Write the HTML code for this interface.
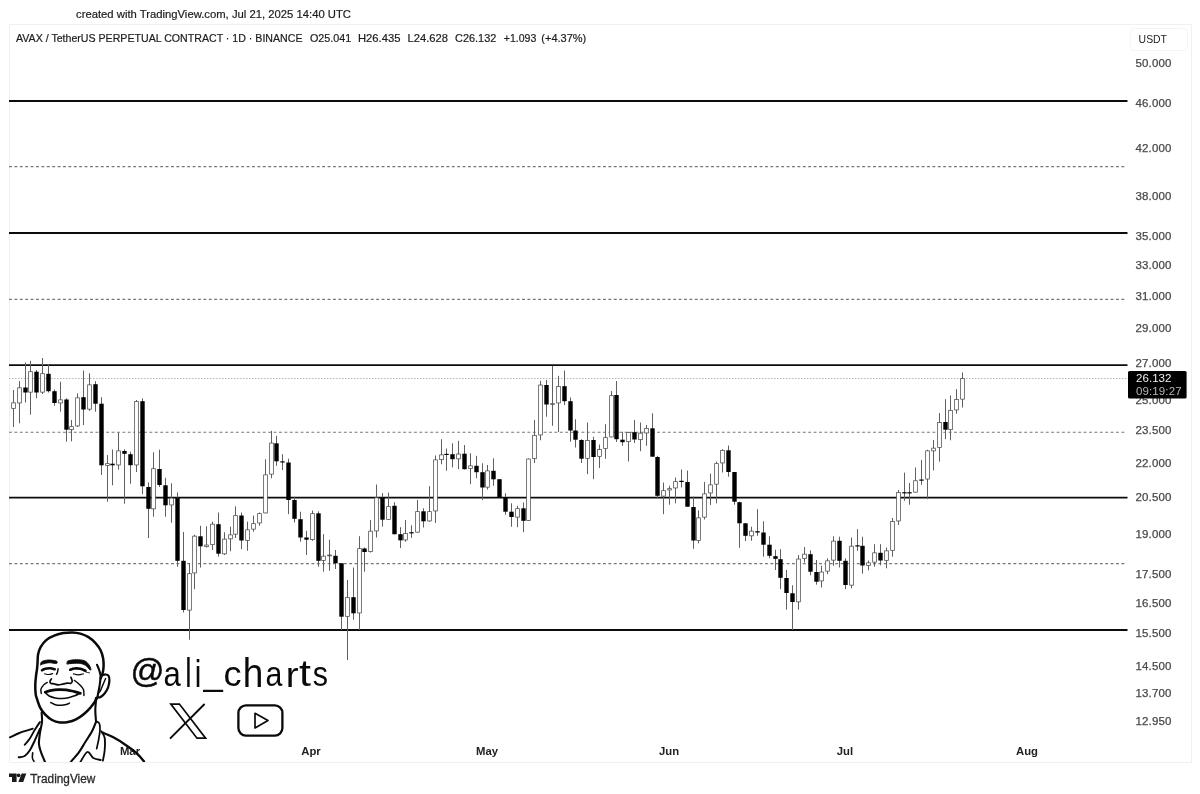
<!DOCTYPE html>
<html lang="en"><head><meta charset="utf-8"><title>AVAX / TetherUS PERPETUAL CONTRACT</title>
<style>
html,body{margin:0;padding:0;background:#fff;}
body{width:1200px;height:794px;overflow:hidden;position:relative;font-family:"Liberation Sans",sans-serif;}
svg{position:absolute;left:0;top:0;display:block;filter:grayscale(1);}
text{font-family:"Liberation Sans",sans-serif;}
.ax{font-size:11.5px;fill:#484848;stroke:#484848;stroke-width:0.25px;}
.mo{font-size:11.3px;font-weight:bold;fill:#222;}
</style></head><body>
<svg width="1200" height="794" viewBox="0 0 1200 794">
<rect x="0" y="0" width="1200" height="794" fill="#ffffff"/>

<rect x="9.5" y="24.5" width="1182" height="738" fill="none" stroke="#f0f0f0" stroke-width="1"/>
<text x="76" y="18" font-size="11.3px" fill="#1c1c1c" stroke="#1c1c1c" stroke-width="0.2" textLength="275" lengthAdjust="spacingAndGlyphs">created with TradingView.com, Jul 21, 2025 14:40 UTC</text>
<text x="16" y="42" font-size="11px" fill="#1c1c1c" stroke="#1c1c1c" stroke-width="0.2" textLength="286.5" lengthAdjust="spacingAndGlyphs">AVAX / TetherUS PERPETUAL CONTRACT · 1D · BINANCE</text>
<text x="310" y="42" font-size="11px" fill="#1c1c1c" stroke="#1c1c1c" stroke-width="0.2" textLength="41.3" lengthAdjust="spacingAndGlyphs">O25.041</text>
<text x="358" y="42" font-size="11px" fill="#1c1c1c" stroke="#1c1c1c" stroke-width="0.2" textLength="42.5" lengthAdjust="spacingAndGlyphs">H26.435</text>
<text x="407.5" y="42" font-size="11px" fill="#1c1c1c" stroke="#1c1c1c" stroke-width="0.2" textLength="40.5" lengthAdjust="spacingAndGlyphs">L24.628</text>
<text x="455" y="42" font-size="11px" fill="#1c1c1c" stroke="#1c1c1c" stroke-width="0.2" textLength="41.3" lengthAdjust="spacingAndGlyphs">C26.132</text>
<text x="503.8" y="42" font-size="11px" fill="#1c1c1c" stroke="#1c1c1c" stroke-width="0.2" textLength="32.5" lengthAdjust="spacingAndGlyphs">+1.093</text>
<text x="541.3" y="42" font-size="11px" fill="#1c1c1c" stroke="#1c1c1c" stroke-width="0.2" textLength="45.0" lengthAdjust="spacingAndGlyphs">(+4.37%)</text>
<rect x="1130.5" y="28.5" width="57" height="22" rx="4" fill="#fff" stroke="#f5f5f5"/>
<text x="1138.6" y="43" font-size="11px" fill="#222" textLength="28.4" lengthAdjust="spacingAndGlyphs">USDT</text>
<line x1="9" x2="1127.5" y1="101" y2="101" stroke="#0c0c0c" stroke-width="1.9"/>
<line x1="9" x2="1127.5" y1="233" y2="233" stroke="#0c0c0c" stroke-width="1.9"/>
<line x1="9" x2="1127.5" y1="365.1" y2="365.1" stroke="#0c0c0c" stroke-width="1.9"/>
<line x1="9" x2="1127.5" y1="497.6" y2="497.6" stroke="#0c0c0c" stroke-width="1.9"/>
<line x1="9" x2="1127.5" y1="630" y2="630" stroke="#0c0c0c" stroke-width="1.9"/>
<line x1="9" x2="1125.5" y1="166.6" y2="166.6" stroke="#777" stroke-width="1.1" stroke-dasharray="2.9 2.5"/>
<line x1="9" x2="1125.5" y1="299.4" y2="299.4" stroke="#777" stroke-width="1.1" stroke-dasharray="2.9 2.5"/>
<line x1="9" x2="1125.5" y1="432.2" y2="432.2" stroke="#777" stroke-width="1.1" stroke-dasharray="2.9 2.5"/>
<line x1="9" x2="1125.5" y1="563.6" y2="563.6" stroke="#777" stroke-width="1.1" stroke-dasharray="2.9 2.5"/>
<line x1="9" x2="1127" y1="378.5" y2="378.5" stroke="#b5b5b5" stroke-width="1" stroke-dasharray="1.5 1.5"/>
<text class="ax" x="1135.6" y="66.6" textLength="35.7" lengthAdjust="spacing">50.000</text>
<text class="ax" x="1135.6" y="107.2" textLength="35.7" lengthAdjust="spacing">46.000</text>
<text class="ax" x="1135.6" y="151.5" textLength="35.7" lengthAdjust="spacing">42.000</text>
<text class="ax" x="1135.6" y="200.3" textLength="35.7" lengthAdjust="spacing">38.000</text>
<text class="ax" x="1135.6" y="240.3" textLength="35.7" lengthAdjust="spacing">35.000</text>
<text class="ax" x="1135.6" y="269.0" textLength="35.7" lengthAdjust="spacing">33.000</text>
<text class="ax" x="1135.6" y="299.5" textLength="35.7" lengthAdjust="spacing">31.000</text>
<text class="ax" x="1135.6" y="331.9" textLength="35.7" lengthAdjust="spacing">29.000</text>
<text class="ax" x="1135.6" y="366.7" textLength="35.7" lengthAdjust="spacing">27.000</text>
<text class="ax" x="1135.6" y="404.2" textLength="35.7" lengthAdjust="spacing">25.000</text>
<text class="ax" x="1135.6" y="434.4" textLength="35.7" lengthAdjust="spacing">23.500</text>
<text class="ax" x="1135.6" y="466.5" textLength="35.7" lengthAdjust="spacing">22.000</text>
<text class="ax" x="1135.6" y="500.9" textLength="35.7" lengthAdjust="spacing">20.500</text>
<text class="ax" x="1135.6" y="537.9" textLength="35.7" lengthAdjust="spacing">19.000</text>
<text class="ax" x="1135.6" y="578.0" textLength="35.7" lengthAdjust="spacing">17.500</text>
<text class="ax" x="1135.6" y="606.6" textLength="35.7" lengthAdjust="spacing">16.500</text>
<text class="ax" x="1135.6" y="637.1" textLength="35.7" lengthAdjust="spacing">15.500</text>
<text class="ax" x="1135.6" y="669.6" textLength="35.7" lengthAdjust="spacing">14.500</text>
<text class="ax" x="1135.6" y="697.2" textLength="35.7" lengthAdjust="spacing">13.700</text>
<text class="ax" x="1135.6" y="724.6" textLength="35.7" lengthAdjust="spacing">12.950</text>
<line x1="13.5" x2="13.5" y1="390.0" y2="427.0" stroke="#606060" stroke-width="1"/>
<rect x="11.65" y="402.85" width="3.7" height="5.5" fill="#fff" stroke="#4a4a4a" stroke-width="0.75"/>
<line x1="19.5" x2="19.5" y1="381.2" y2="423.3" stroke="#606060" stroke-width="1"/>
<rect x="17.65" y="387.85" width="3.7" height="15.1" fill="#fff" stroke="#4a4a4a" stroke-width="0.75"/>
<line x1="25.5" x2="25.5" y1="362.5" y2="402.5" stroke="#606060" stroke-width="1"/>
<rect x="23.3" y="387.5" width="4.4" height="5.0" fill="#000"/>
<line x1="30.5" x2="30.5" y1="360.8" y2="414.7" stroke="#606060" stroke-width="1"/>
<rect x="28.65" y="371.65000000000003" width="3.7" height="20.5" fill="#fff" stroke="#4a4a4a" stroke-width="0.75"/>
<line x1="36.5" x2="36.5" y1="370.0" y2="398.3" stroke="#606060" stroke-width="1"/>
<rect x="34.3" y="371.7" width="4.4" height="20.8" fill="#000"/>
<line x1="42.5" x2="42.5" y1="358.0" y2="394.0" stroke="#606060" stroke-width="1"/>
<rect x="40.65" y="373.65000000000003" width="3.7" height="18.5" fill="#fff" stroke="#4a4a4a" stroke-width="0.75"/>
<line x1="48.5" x2="48.5" y1="364.0" y2="392.5" stroke="#606060" stroke-width="1"/>
<rect x="46.3" y="373.8" width="4.4" height="17.4" fill="#000"/>
<line x1="54.5" x2="54.5" y1="389.5" y2="405.8" stroke="#606060" stroke-width="1"/>
<rect x="52.3" y="391.2" width="4.4" height="11.8" fill="#000"/>
<line x1="60.5" x2="60.5" y1="381.7" y2="411.7" stroke="#606060" stroke-width="1"/>
<rect x="58.65" y="399.85" width="3.7" height="3.1" fill="#fff" stroke="#4a4a4a" stroke-width="0.75"/>
<line x1="66.5" x2="66.5" y1="398.3" y2="441.7" stroke="#606060" stroke-width="1"/>
<rect x="64.3" y="399.5" width="4.4" height="30.2" fill="#000"/>
<line x1="71.5" x2="71.5" y1="420.0" y2="441.3" stroke="#606060" stroke-width="1"/>
<rect x="69.65" y="426.65000000000003" width="3.7" height="3.0" fill="#fff" stroke="#4a4a4a" stroke-width="0.75"/>
<line x1="77.5" x2="77.5" y1="393.3" y2="427.0" stroke="#606060" stroke-width="1"/>
<rect x="75.65" y="397.85" width="3.7" height="28.1" fill="#fff" stroke="#4a4a4a" stroke-width="0.75"/>
<line x1="83.5" x2="83.5" y1="370.5" y2="425.0" stroke="#606060" stroke-width="1"/>
<rect x="81.3" y="397.2" width="4.4" height="12.3" fill="#000"/>
<line x1="89.5" x2="89.5" y1="373.3" y2="410.8" stroke="#606060" stroke-width="1"/>
<rect x="87.65" y="384.85" width="3.7" height="24.3" fill="#fff" stroke="#4a4a4a" stroke-width="0.75"/>
<line x1="95.5" x2="95.5" y1="381.2" y2="411.7" stroke="#606060" stroke-width="1"/>
<rect x="93.3" y="384.2" width="4.4" height="19.5" fill="#000"/>
<line x1="101.5" x2="101.5" y1="397.2" y2="475.0" stroke="#606060" stroke-width="1"/>
<rect x="99.3" y="403.7" width="4.4" height="61.6" fill="#000"/>
<line x1="107.5" x2="107.5" y1="455.0" y2="501.7" stroke="#606060" stroke-width="1"/>
<rect x="105.65" y="463.65000000000003" width="3.7" height="1.8" fill="#fff" stroke="#4a4a4a" stroke-width="0.75"/>
<line x1="112.5" x2="112.5" y1="449.5" y2="485.3" stroke="#606060" stroke-width="1"/>
<rect x="110.3" y="463.7" width="4.4" height="1.6" fill="#000"/>
<line x1="118.5" x2="118.5" y1="432.5" y2="469.7" stroke="#606060" stroke-width="1"/>
<rect x="116.65" y="450.85" width="3.7" height="14.1" fill="#fff" stroke="#4a4a4a" stroke-width="0.75"/>
<line x1="124.5" x2="124.5" y1="449.2" y2="503.7" stroke="#606060" stroke-width="1"/>
<rect x="122.3" y="451.0" width="4.4" height="2.8" fill="#000"/>
<line x1="130.5" x2="130.5" y1="451.7" y2="483.7" stroke="#606060" stroke-width="1"/>
<rect x="128.3" y="454.2" width="4.4" height="11.0" fill="#000"/>
<line x1="136.5" x2="136.5" y1="400.0" y2="472.0" stroke="#606060" stroke-width="1"/>
<rect x="134.65" y="401.55" width="3.7" height="63.4" fill="#fff" stroke="#4a4a4a" stroke-width="0.75"/>
<line x1="142.5" x2="142.5" y1="398.3" y2="494.2" stroke="#606060" stroke-width="1"/>
<rect x="140.3" y="401.2" width="4.4" height="85.1" fill="#000"/>
<line x1="148.5" x2="148.5" y1="482.5" y2="538.0" stroke="#606060" stroke-width="1"/>
<rect x="146.3" y="487.0" width="4.4" height="21.8" fill="#000"/>
<line x1="153.5" x2="153.5" y1="452.3" y2="516.7" stroke="#606060" stroke-width="1"/>
<rect x="151.65" y="468.65000000000003" width="3.7" height="40.2" fill="#fff" stroke="#4a4a4a" stroke-width="0.75"/>
<line x1="159.5" x2="159.5" y1="449.7" y2="487.0" stroke="#606060" stroke-width="1"/>
<rect x="157.3" y="469.0" width="4.4" height="16.0" fill="#000"/>
<line x1="165.5" x2="165.5" y1="477.8" y2="516.7" stroke="#606060" stroke-width="1"/>
<rect x="163.3" y="485.3" width="4.4" height="20.0" fill="#000"/>
<line x1="171.5" x2="171.5" y1="483.3" y2="522.8" stroke="#606060" stroke-width="1"/>
<rect x="169.65" y="498.15000000000003" width="3.7" height="6.8" fill="#fff" stroke="#4a4a4a" stroke-width="0.75"/>
<line x1="177.5" x2="177.5" y1="492.5" y2="566.7" stroke="#606060" stroke-width="1"/>
<rect x="175.3" y="497.8" width="4.4" height="63.0" fill="#000"/>
<line x1="183.5" x2="183.5" y1="532.0" y2="612.5" stroke="#606060" stroke-width="1"/>
<rect x="181.3" y="560.8" width="4.4" height="49.2" fill="#000"/>
<line x1="189.5" x2="189.5" y1="563.3" y2="639.7" stroke="#606060" stroke-width="1"/>
<rect x="187.65" y="573.65" width="3.7" height="36.5" fill="#fff" stroke="#4a4a4a" stroke-width="0.75"/>
<line x1="194.5" x2="194.5" y1="534.7" y2="589.2" stroke="#606060" stroke-width="1"/>
<rect x="192.65" y="536.15" width="3.7" height="36.8" fill="#fff" stroke="#4a4a4a" stroke-width="0.75"/>
<line x1="200.5" x2="200.5" y1="525.8" y2="567.5" stroke="#606060" stroke-width="1"/>
<rect x="198.3" y="536.3" width="4.4" height="10.0" fill="#000"/>
<line x1="206.5" x2="206.5" y1="526.3" y2="547.5" stroke="#606060" stroke-width="1"/>
<rect x="204.65" y="545.0500000000001" width="3.7" height="1.6" fill="#fff" stroke="#4a4a4a" stroke-width="0.75"/>
<line x1="212.5" x2="212.5" y1="521.7" y2="550.0" stroke="#606060" stroke-width="1"/>
<rect x="210.65" y="524.15" width="3.7" height="20.5" fill="#fff" stroke="#4a4a4a" stroke-width="0.75"/>
<line x1="218.5" x2="218.5" y1="512.5" y2="556.7" stroke="#606060" stroke-width="1"/>
<rect x="216.3" y="524.2" width="4.4" height="29.5" fill="#000"/>
<line x1="224.5" x2="224.5" y1="532.2" y2="555.0" stroke="#606060" stroke-width="1"/>
<rect x="222.65" y="539.15" width="3.7" height="14.7" fill="#fff" stroke="#4a4a4a" stroke-width="0.75"/>
<line x1="230.5" x2="230.5" y1="526.7" y2="551.3" stroke="#606060" stroke-width="1"/>
<rect x="228.65" y="534.85" width="3.7" height="4.0" fill="#fff" stroke="#4a4a4a" stroke-width="0.75"/>
<line x1="235.5" x2="235.5" y1="506.3" y2="538.0" stroke="#606060" stroke-width="1"/>
<rect x="233.65" y="515.65" width="3.7" height="18.5" fill="#fff" stroke="#4a4a4a" stroke-width="0.75"/>
<line x1="241.5" x2="241.5" y1="512.5" y2="549.2" stroke="#606060" stroke-width="1"/>
<rect x="239.3" y="515.5" width="4.4" height="25.0" fill="#000"/>
<line x1="247.5" x2="247.5" y1="521.7" y2="550.8" stroke="#606060" stroke-width="1"/>
<rect x="245.65" y="529.85" width="3.7" height="10.6" fill="#fff" stroke="#4a4a4a" stroke-width="0.75"/>
<line x1="253.5" x2="253.5" y1="515.5" y2="531.7" stroke="#606060" stroke-width="1"/>
<rect x="251.65" y="523.65" width="3.7" height="5.5" fill="#fff" stroke="#4a4a4a" stroke-width="0.75"/>
<line x1="259.5" x2="259.5" y1="512.5" y2="525.8" stroke="#606060" stroke-width="1"/>
<rect x="257.65" y="513.65" width="3.7" height="9.3" fill="#fff" stroke="#4a4a4a" stroke-width="0.75"/>
<line x1="265.5" x2="265.5" y1="459.3" y2="513.3" stroke="#606060" stroke-width="1"/>
<rect x="263.65" y="474.85" width="3.7" height="38.1" fill="#fff" stroke="#4a4a4a" stroke-width="0.75"/>
<line x1="271.5" x2="271.5" y1="430.8" y2="478.3" stroke="#606060" stroke-width="1"/>
<rect x="269.65" y="443.05" width="3.7" height="31.1" fill="#fff" stroke="#4a4a4a" stroke-width="0.75"/>
<line x1="276.5" x2="276.5" y1="435.8" y2="465.8" stroke="#606060" stroke-width="1"/>
<rect x="274.3" y="443.3" width="4.4" height="18.0" fill="#000"/>
<line x1="282.5" x2="282.5" y1="454.2" y2="470.0" stroke="#606060" stroke-width="1"/>
<rect x="280.3" y="461.3" width="4.4" height="1.2" fill="#000"/>
<line x1="288.5" x2="288.5" y1="458.7" y2="514.2" stroke="#606060" stroke-width="1"/>
<rect x="286.3" y="462.5" width="4.4" height="37.5" fill="#000"/>
<line x1="294.5" x2="294.5" y1="496.7" y2="522.5" stroke="#606060" stroke-width="1"/>
<rect x="292.3" y="500.0" width="4.4" height="18.8" fill="#000"/>
<line x1="300.5" x2="300.5" y1="511.7" y2="541.7" stroke="#606060" stroke-width="1"/>
<rect x="298.3" y="519.2" width="4.4" height="18.3" fill="#000"/>
<line x1="306.5" x2="306.5" y1="530.8" y2="555.0" stroke="#606060" stroke-width="1"/>
<rect x="304.3" y="537.5" width="4.4" height="2.2" fill="#000"/>
<line x1="312.5" x2="312.5" y1="510.5" y2="540.8" stroke="#606060" stroke-width="1"/>
<rect x="310.65" y="513.65" width="3.7" height="26.0" fill="#fff" stroke="#4a4a4a" stroke-width="0.75"/>
<line x1="318.5" x2="318.5" y1="511.3" y2="566.7" stroke="#606060" stroke-width="1"/>
<rect x="316.3" y="513.3" width="4.4" height="47.5" fill="#000"/>
<line x1="323.5" x2="323.5" y1="534.2" y2="571.7" stroke="#606060" stroke-width="1"/>
<rect x="321.65" y="556.15" width="3.7" height="4.3" fill="#fff" stroke="#4a4a4a" stroke-width="0.75"/>
<line x1="329.5" x2="329.5" y1="539.7" y2="570.8" stroke="#606060" stroke-width="1"/>
<rect x="327.65" y="555.0500000000001" width="3.7" height="0.8" fill="#fff" stroke="#4a4a4a" stroke-width="0.75"/>
<line x1="335.5" x2="335.5" y1="550.0" y2="569.0" stroke="#606060" stroke-width="1"/>
<rect x="333.3" y="555.8" width="4.4" height="7.5" fill="#000"/>
<line x1="341.5" x2="341.5" y1="563.3" y2="630.0" stroke="#606060" stroke-width="1"/>
<rect x="339.3" y="563.3" width="4.4" height="53.4" fill="#000"/>
<line x1="347.5" x2="347.5" y1="580.0" y2="660.0" stroke="#606060" stroke-width="1"/>
<rect x="345.65" y="597.5500000000001" width="3.7" height="18.8" fill="#fff" stroke="#4a4a4a" stroke-width="0.75"/>
<line x1="353.5" x2="353.5" y1="567.5" y2="619.7" stroke="#606060" stroke-width="1"/>
<rect x="351.3" y="597.2" width="4.4" height="16.1" fill="#000"/>
<line x1="359.5" x2="359.5" y1="536.2" y2="630.0" stroke="#606060" stroke-width="1"/>
<rect x="357.65" y="548.65" width="3.7" height="64.3" fill="#fff" stroke="#4a4a4a" stroke-width="0.75"/>
<line x1="364.5" x2="364.5" y1="547.5" y2="571.7" stroke="#606060" stroke-width="1"/>
<rect x="362.3" y="548.5" width="4.4" height="3.5" fill="#000"/>
<line x1="370.5" x2="370.5" y1="520.0" y2="552.5" stroke="#606060" stroke-width="1"/>
<rect x="368.65" y="531.15" width="3.7" height="20.5" fill="#fff" stroke="#4a4a4a" stroke-width="0.75"/>
<line x1="376.5" x2="376.5" y1="484.5" y2="537.5" stroke="#606060" stroke-width="1"/>
<rect x="374.65" y="497.85" width="3.7" height="33.1" fill="#fff" stroke="#4a4a4a" stroke-width="0.75"/>
<line x1="382.5" x2="382.5" y1="493.0" y2="526.7" stroke="#606060" stroke-width="1"/>
<rect x="380.3" y="497.5" width="4.4" height="22.2" fill="#000"/>
<line x1="388.5" x2="388.5" y1="492.5" y2="519.7" stroke="#606060" stroke-width="1"/>
<rect x="386.65" y="506.65000000000003" width="3.7" height="12.7" fill="#fff" stroke="#4a4a4a" stroke-width="0.75"/>
<line x1="394.5" x2="394.5" y1="502.2" y2="534.5" stroke="#606060" stroke-width="1"/>
<rect x="392.3" y="505.8" width="4.4" height="28.4" fill="#000"/>
<line x1="400.5" x2="400.5" y1="527.2" y2="548.0" stroke="#606060" stroke-width="1"/>
<rect x="398.3" y="534.2" width="4.4" height="6.1" fill="#000"/>
<line x1="405.5" x2="405.5" y1="520.0" y2="541.7" stroke="#606060" stroke-width="1"/>
<rect x="403.65" y="533.35" width="3.7" height="6.6" fill="#fff" stroke="#4a4a4a" stroke-width="0.75"/>
<line x1="411.5" x2="411.5" y1="525.3" y2="537.8" stroke="#606060" stroke-width="1"/>
<rect x="409.3" y="532.2" width="4.4" height="1.2" fill="#000"/>
<line x1="417.5" x2="417.5" y1="500.0" y2="532.5" stroke="#606060" stroke-width="1"/>
<rect x="415.65" y="511.65000000000003" width="3.7" height="20.5" fill="#fff" stroke="#4a4a4a" stroke-width="0.75"/>
<line x1="423.5" x2="423.5" y1="508.3" y2="527.5" stroke="#606060" stroke-width="1"/>
<rect x="421.3" y="511.3" width="4.4" height="10.0" fill="#000"/>
<line x1="429.5" x2="429.5" y1="486.2" y2="521.7" stroke="#606060" stroke-width="1"/>
<rect x="427.65" y="511.65000000000003" width="3.7" height="9.3" fill="#fff" stroke="#4a4a4a" stroke-width="0.75"/>
<line x1="435.5" x2="435.5" y1="455.5" y2="523.0" stroke="#606060" stroke-width="1"/>
<rect x="433.65" y="459.85" width="3.7" height="51.1" fill="#fff" stroke="#4a4a4a" stroke-width="0.75"/>
<line x1="441.5" x2="441.5" y1="439.2" y2="464.2" stroke="#606060" stroke-width="1"/>
<rect x="439.65" y="454.85" width="3.7" height="4.8" fill="#fff" stroke="#4a4a4a" stroke-width="0.75"/>
<line x1="446.5" x2="446.5" y1="448.5" y2="470.8" stroke="#606060" stroke-width="1"/>
<rect x="444.3" y="453.8" width="4.4" height="1.2" fill="#000"/>
<line x1="452.5" x2="452.5" y1="443.3" y2="467.5" stroke="#606060" stroke-width="1"/>
<rect x="450.3" y="454.2" width="4.4" height="5.0" fill="#000"/>
<line x1="458.5" x2="458.5" y1="440.8" y2="469.2" stroke="#606060" stroke-width="1"/>
<rect x="456.65" y="454.05" width="3.7" height="4.8" fill="#fff" stroke="#4a4a4a" stroke-width="0.75"/>
<line x1="464.5" x2="464.5" y1="445.0" y2="469.5" stroke="#606060" stroke-width="1"/>
<rect x="462.3" y="453.7" width="4.4" height="15.5" fill="#000"/>
<line x1="470.5" x2="470.5" y1="453.3" y2="484.2" stroke="#606060" stroke-width="1"/>
<rect x="468.65" y="465.85" width="3.7" height="2.6" fill="#fff" stroke="#4a4a4a" stroke-width="0.75"/>
<line x1="476.5" x2="476.5" y1="455.8" y2="478.3" stroke="#606060" stroke-width="1"/>
<rect x="474.3" y="465.8" width="4.4" height="6.4" fill="#000"/>
<line x1="482.5" x2="482.5" y1="463.3" y2="500.0" stroke="#606060" stroke-width="1"/>
<rect x="480.3" y="472.2" width="4.4" height="15.3" fill="#000"/>
<line x1="487.5" x2="487.5" y1="465.0" y2="489.5" stroke="#606060" stroke-width="1"/>
<rect x="485.65" y="470.85" width="3.7" height="16.3" fill="#fff" stroke="#4a4a4a" stroke-width="0.75"/>
<line x1="493.5" x2="493.5" y1="458.3" y2="485.8" stroke="#606060" stroke-width="1"/>
<rect x="491.3" y="470.8" width="4.4" height="8.5" fill="#000"/>
<line x1="499.5" x2="499.5" y1="479.2" y2="497.5" stroke="#606060" stroke-width="1"/>
<rect x="497.3" y="479.2" width="4.4" height="18.3" fill="#000"/>
<line x1="505.5" x2="505.5" y1="493.3" y2="514.7" stroke="#606060" stroke-width="1"/>
<rect x="503.3" y="497.2" width="4.4" height="14.5" fill="#000"/>
<line x1="511.5" x2="511.5" y1="503.3" y2="526.7" stroke="#606060" stroke-width="1"/>
<rect x="509.3" y="511.7" width="4.4" height="5.3" fill="#000"/>
<line x1="517.5" x2="517.5" y1="505.8" y2="527.2" stroke="#606060" stroke-width="1"/>
<rect x="515.65" y="508.65000000000003" width="3.7" height="8.5" fill="#fff" stroke="#4a4a4a" stroke-width="0.75"/>
<line x1="523.5" x2="523.5" y1="502.5" y2="532.2" stroke="#606060" stroke-width="1"/>
<rect x="521.3" y="508.3" width="4.4" height="12.5" fill="#000"/>
<line x1="528.5" x2="528.5" y1="458.5" y2="521.0" stroke="#606060" stroke-width="1"/>
<rect x="526.65" y="459.05" width="3.7" height="61.4" fill="#fff" stroke="#4a4a4a" stroke-width="0.75"/>
<line x1="534.5" x2="534.5" y1="420.0" y2="463.0" stroke="#606060" stroke-width="1"/>
<rect x="532.65" y="435.35" width="3.7" height="23.3" fill="#fff" stroke="#4a4a4a" stroke-width="0.75"/>
<line x1="540.5" x2="540.5" y1="380.8" y2="440.3" stroke="#606060" stroke-width="1"/>
<rect x="538.65" y="385.05" width="3.7" height="49.9" fill="#fff" stroke="#4a4a4a" stroke-width="0.75"/>
<line x1="546.5" x2="546.5" y1="380.0" y2="416.7" stroke="#606060" stroke-width="1"/>
<rect x="544.3" y="385.0" width="4.4" height="19.5" fill="#000"/>
<line x1="552.5" x2="552.5" y1="365.8" y2="425.8" stroke="#606060" stroke-width="1"/>
<rect x="550.65" y="403.65000000000003" width="3.7" height="0.8" fill="#fff" stroke="#4a4a4a" stroke-width="0.75"/>
<line x1="558.5" x2="558.5" y1="375.8" y2="432.0" stroke="#606060" stroke-width="1"/>
<rect x="556.65" y="386.55" width="3.7" height="16.4" fill="#fff" stroke="#4a4a4a" stroke-width="0.75"/>
<line x1="564.5" x2="564.5" y1="370.5" y2="405.0" stroke="#606060" stroke-width="1"/>
<rect x="562.3" y="386.2" width="4.4" height="15.0" fill="#000"/>
<line x1="570.5" x2="570.5" y1="397.5" y2="441.7" stroke="#606060" stroke-width="1"/>
<rect x="568.3" y="401.2" width="4.4" height="29.3" fill="#000"/>
<line x1="575.5" x2="575.5" y1="419.2" y2="447.5" stroke="#606060" stroke-width="1"/>
<rect x="573.3" y="430.5" width="4.4" height="9.2" fill="#000"/>
<line x1="581.5" x2="581.5" y1="439.2" y2="463.0" stroke="#606060" stroke-width="1"/>
<rect x="579.3" y="440.0" width="4.4" height="18.7" fill="#000"/>
<line x1="587.5" x2="587.5" y1="422.5" y2="474.2" stroke="#606060" stroke-width="1"/>
<rect x="585.65" y="440.35" width="3.7" height="18.0" fill="#fff" stroke="#4a4a4a" stroke-width="0.75"/>
<line x1="593.5" x2="593.5" y1="436.7" y2="479.2" stroke="#606060" stroke-width="1"/>
<rect x="591.3" y="440.0" width="4.4" height="17.0" fill="#000"/>
<line x1="599.5" x2="599.5" y1="444.5" y2="468.0" stroke="#606060" stroke-width="1"/>
<rect x="597.65" y="449.55" width="3.7" height="6.8" fill="#fff" stroke="#4a4a4a" stroke-width="0.75"/>
<line x1="605.5" x2="605.5" y1="424.2" y2="458.8" stroke="#606060" stroke-width="1"/>
<rect x="603.65" y="437.65000000000003" width="3.7" height="10.8" fill="#fff" stroke="#4a4a4a" stroke-width="0.75"/>
<line x1="611.5" x2="611.5" y1="391.0" y2="437.3" stroke="#606060" stroke-width="1"/>
<rect x="609.65" y="395.65000000000003" width="3.7" height="41.3" fill="#fff" stroke="#4a4a4a" stroke-width="0.75"/>
<line x1="616.5" x2="616.5" y1="381.0" y2="442.0" stroke="#606060" stroke-width="1"/>
<rect x="614.3" y="395.0" width="4.4" height="44.2" fill="#000"/>
<line x1="622.5" x2="622.5" y1="431.7" y2="445.8" stroke="#606060" stroke-width="1"/>
<rect x="620.3" y="439.7" width="4.4" height="2.5" fill="#000"/>
<line x1="628.5" x2="628.5" y1="431.7" y2="461.5" stroke="#606060" stroke-width="1"/>
<rect x="626.65" y="432.55" width="3.7" height="9.1" fill="#fff" stroke="#4a4a4a" stroke-width="0.75"/>
<line x1="634.5" x2="634.5" y1="420.0" y2="443.0" stroke="#606060" stroke-width="1"/>
<rect x="632.3" y="432.2" width="4.4" height="7.3" fill="#000"/>
<line x1="640.5" x2="640.5" y1="422.5" y2="451.2" stroke="#606060" stroke-width="1"/>
<rect x="638.65" y="433.15000000000003" width="3.7" height="6.5" fill="#fff" stroke="#4a4a4a" stroke-width="0.75"/>
<line x1="646.5" x2="646.5" y1="425.0" y2="445.8" stroke="#606060" stroke-width="1"/>
<rect x="644.65" y="428.35" width="3.7" height="4.6" fill="#fff" stroke="#4a4a4a" stroke-width="0.75"/>
<line x1="652.5" x2="652.5" y1="413.3" y2="456.7" stroke="#606060" stroke-width="1"/>
<rect x="650.3" y="428.3" width="4.4" height="28.4" fill="#000"/>
<line x1="657.5" x2="657.5" y1="455.8" y2="498.3" stroke="#606060" stroke-width="1"/>
<rect x="655.3" y="457.0" width="4.4" height="38.8" fill="#000"/>
<line x1="663.5" x2="663.5" y1="482.5" y2="514.2" stroke="#606060" stroke-width="1"/>
<rect x="661.65" y="490.65000000000003" width="3.7" height="5.5" fill="#fff" stroke="#4a4a4a" stroke-width="0.75"/>
<line x1="669.5" x2="669.5" y1="485.8" y2="504.7" stroke="#606060" stroke-width="1"/>
<rect x="667.65" y="488.65000000000003" width="3.7" height="1.3" fill="#fff" stroke="#4a4a4a" stroke-width="0.75"/>
<line x1="675.5" x2="675.5" y1="477.5" y2="503.3" stroke="#606060" stroke-width="1"/>
<rect x="673.65" y="481.65000000000003" width="3.7" height="6.3" fill="#fff" stroke="#4a4a4a" stroke-width="0.75"/>
<line x1="681.5" x2="681.5" y1="469.5" y2="487.5" stroke="#606060" stroke-width="1"/>
<rect x="679.3" y="480.8" width="4.4" height="1.2" fill="#000"/>
<line x1="687.5" x2="687.5" y1="470.5" y2="506.7" stroke="#606060" stroke-width="1"/>
<rect x="685.3" y="482.0" width="4.4" height="24.7" fill="#000"/>
<line x1="693.5" x2="693.5" y1="496.5" y2="548.8" stroke="#606060" stroke-width="1"/>
<rect x="691.3" y="507.0" width="4.4" height="33.5" fill="#000"/>
<line x1="698.5" x2="698.5" y1="510.3" y2="543.3" stroke="#606060" stroke-width="1"/>
<rect x="696.65" y="517.85" width="3.7" height="22.6" fill="#fff" stroke="#4a4a4a" stroke-width="0.75"/>
<line x1="704.5" x2="704.5" y1="482.0" y2="519.5" stroke="#606060" stroke-width="1"/>
<rect x="702.65" y="493.85" width="3.7" height="23.3" fill="#fff" stroke="#4a4a4a" stroke-width="0.75"/>
<line x1="710.5" x2="710.5" y1="473.7" y2="505.0" stroke="#606060" stroke-width="1"/>
<rect x="708.65" y="484.85" width="3.7" height="8.1" fill="#fff" stroke="#4a4a4a" stroke-width="0.75"/>
<line x1="716.5" x2="716.5" y1="461.7" y2="503.3" stroke="#606060" stroke-width="1"/>
<rect x="714.65" y="463.65000000000003" width="3.7" height="20.5" fill="#fff" stroke="#4a4a4a" stroke-width="0.75"/>
<line x1="722.5" x2="722.5" y1="449.2" y2="472.5" stroke="#606060" stroke-width="1"/>
<rect x="720.65" y="450.35" width="3.7" height="12.6" fill="#fff" stroke="#4a4a4a" stroke-width="0.75"/>
<line x1="728.5" x2="728.5" y1="445.5" y2="476.7" stroke="#606060" stroke-width="1"/>
<rect x="726.3" y="450.3" width="4.4" height="21.7" fill="#000"/>
<line x1="734.5" x2="734.5" y1="472.0" y2="504.7" stroke="#606060" stroke-width="1"/>
<rect x="732.3" y="472.0" width="4.4" height="29.7" fill="#000"/>
<line x1="739.5" x2="739.5" y1="501.7" y2="547.8" stroke="#606060" stroke-width="1"/>
<rect x="737.3" y="502.2" width="4.4" height="21.1" fill="#000"/>
<line x1="745.5" x2="745.5" y1="523.0" y2="541.2" stroke="#606060" stroke-width="1"/>
<rect x="743.3" y="523.3" width="4.4" height="12.5" fill="#000"/>
<line x1="751.5" x2="751.5" y1="526.7" y2="540.8" stroke="#606060" stroke-width="1"/>
<rect x="749.65" y="531.15" width="3.7" height="4.7" fill="#fff" stroke="#4a4a4a" stroke-width="0.75"/>
<line x1="757.5" x2="757.5" y1="509.2" y2="535.8" stroke="#606060" stroke-width="1"/>
<rect x="755.3" y="531.2" width="4.4" height="1.3" fill="#000"/>
<line x1="763.5" x2="763.5" y1="521.3" y2="556.7" stroke="#606060" stroke-width="1"/>
<rect x="761.3" y="532.5" width="4.4" height="12.2" fill="#000"/>
<line x1="769.5" x2="769.5" y1="536.3" y2="558.3" stroke="#606060" stroke-width="1"/>
<rect x="767.3" y="544.7" width="4.4" height="11.1" fill="#000"/>
<line x1="775.5" x2="775.5" y1="549.7" y2="570.0" stroke="#606060" stroke-width="1"/>
<rect x="773.3" y="556.2" width="4.4" height="2.6" fill="#000"/>
<line x1="780.5" x2="780.5" y1="549.2" y2="589.2" stroke="#606060" stroke-width="1"/>
<rect x="778.3" y="559.2" width="4.4" height="18.6" fill="#000"/>
<line x1="786.5" x2="786.5" y1="570.0" y2="609.7" stroke="#606060" stroke-width="1"/>
<rect x="784.3" y="578.0" width="4.4" height="15.0" fill="#000"/>
<line x1="792.5" x2="792.5" y1="585.3" y2="630.0" stroke="#606060" stroke-width="1"/>
<rect x="790.3" y="593.3" width="4.4" height="8.7" fill="#000"/>
<line x1="798.5" x2="798.5" y1="555.0" y2="609.7" stroke="#606060" stroke-width="1"/>
<rect x="796.65" y="559.0500000000001" width="3.7" height="42.8" fill="#fff" stroke="#4a4a4a" stroke-width="0.75"/>
<line x1="804.5" x2="804.5" y1="547.0" y2="562.5" stroke="#606060" stroke-width="1"/>
<rect x="802.65" y="554.15" width="3.7" height="4.3" fill="#fff" stroke="#4a4a4a" stroke-width="0.75"/>
<line x1="810.5" x2="810.5" y1="550.3" y2="575.3" stroke="#606060" stroke-width="1"/>
<rect x="808.3" y="554.2" width="4.4" height="17.5" fill="#000"/>
<line x1="816.5" x2="816.5" y1="560.0" y2="584.7" stroke="#606060" stroke-width="1"/>
<rect x="814.3" y="572.0" width="4.4" height="9.7" fill="#000"/>
<line x1="821.5" x2="821.5" y1="565.8" y2="587.5" stroke="#606060" stroke-width="1"/>
<rect x="819.65" y="572.0500000000001" width="3.7" height="8.9" fill="#fff" stroke="#4a4a4a" stroke-width="0.75"/>
<line x1="827.5" x2="827.5" y1="558.3" y2="574.2" stroke="#606060" stroke-width="1"/>
<rect x="825.65" y="560.85" width="3.7" height="10.3" fill="#fff" stroke="#4a4a4a" stroke-width="0.75"/>
<line x1="833.5" x2="833.5" y1="536.3" y2="565.8" stroke="#606060" stroke-width="1"/>
<rect x="831.65" y="541.15" width="3.7" height="19.0" fill="#fff" stroke="#4a4a4a" stroke-width="0.75"/>
<line x1="839.5" x2="839.5" y1="536.7" y2="567.5" stroke="#606060" stroke-width="1"/>
<rect x="837.3" y="540.8" width="4.4" height="20.0" fill="#000"/>
<line x1="845.5" x2="845.5" y1="558.3" y2="589.2" stroke="#606060" stroke-width="1"/>
<rect x="843.3" y="560.8" width="4.4" height="24.2" fill="#000"/>
<line x1="851.5" x2="851.5" y1="537.5" y2="588.3" stroke="#606060" stroke-width="1"/>
<rect x="849.65" y="546.15" width="3.7" height="39.0" fill="#fff" stroke="#4a4a4a" stroke-width="0.75"/>
<line x1="857.5" x2="857.5" y1="529.2" y2="550.8" stroke="#606060" stroke-width="1"/>
<rect x="855.3" y="545.3" width="4.4" height="1.2" fill="#000"/>
<line x1="862.5" x2="862.5" y1="536.7" y2="573.7" stroke="#606060" stroke-width="1"/>
<rect x="860.3" y="545.8" width="4.4" height="19.7" fill="#000"/>
<line x1="868.5" x2="868.5" y1="560.5" y2="570.3" stroke="#606060" stroke-width="1"/>
<rect x="866.65" y="562.85" width="3.7" height="2.6" fill="#fff" stroke="#4a4a4a" stroke-width="0.75"/>
<line x1="874.5" x2="874.5" y1="544.2" y2="566.7" stroke="#606060" stroke-width="1"/>
<rect x="872.65" y="552.85" width="3.7" height="9.3" fill="#fff" stroke="#4a4a4a" stroke-width="0.75"/>
<line x1="880.5" x2="880.5" y1="544.2" y2="565.3" stroke="#606060" stroke-width="1"/>
<rect x="878.3" y="552.8" width="4.4" height="7.7" fill="#000"/>
<line x1="886.5" x2="886.5" y1="547.5" y2="568.3" stroke="#606060" stroke-width="1"/>
<rect x="884.65" y="550.85" width="3.7" height="9.5" fill="#fff" stroke="#4a4a4a" stroke-width="0.75"/>
<line x1="892.5" x2="892.5" y1="518.0" y2="556.7" stroke="#606060" stroke-width="1"/>
<rect x="890.65" y="521.5500000000001" width="3.7" height="28.8" fill="#fff" stroke="#4a4a4a" stroke-width="0.75"/>
<line x1="898.5" x2="898.5" y1="490.0" y2="525.0" stroke="#606060" stroke-width="1"/>
<rect x="896.65" y="492.55" width="3.7" height="28.4" fill="#fff" stroke="#4a4a4a" stroke-width="0.75"/>
<line x1="904.5" x2="904.5" y1="472.6" y2="500.8" stroke="#606060" stroke-width="1"/>
<rect x="902.3" y="492.2" width="4.4" height="1.2" fill="#000"/>
<line x1="909.5" x2="909.5" y1="483.0" y2="504.7" stroke="#606060" stroke-width="1"/>
<rect x="907.3" y="492.2" width="4.4" height="1.2" fill="#000"/>
<line x1="915.5" x2="915.5" y1="467.5" y2="492.5" stroke="#606060" stroke-width="1"/>
<rect x="913.65" y="480.75" width="3.7" height="11.4" fill="#fff" stroke="#4a4a4a" stroke-width="0.75"/>
<line x1="921.5" x2="921.5" y1="460.0" y2="484.8" stroke="#606060" stroke-width="1"/>
<rect x="919.3" y="479.5" width="4.4" height="1.2" fill="#000"/>
<line x1="927.5" x2="927.5" y1="449.8" y2="499.2" stroke="#606060" stroke-width="1"/>
<rect x="925.65" y="450.85" width="3.7" height="28.2" fill="#fff" stroke="#4a4a4a" stroke-width="0.75"/>
<line x1="933.5" x2="933.5" y1="440.0" y2="470.4" stroke="#606060" stroke-width="1"/>
<rect x="931.65" y="448.15000000000003" width="3.7" height="2.7" fill="#fff" stroke="#4a4a4a" stroke-width="0.75"/>
<line x1="939.5" x2="939.5" y1="413.0" y2="461.7" stroke="#606060" stroke-width="1"/>
<rect x="937.65" y="422.55" width="3.7" height="24.9" fill="#fff" stroke="#4a4a4a" stroke-width="0.75"/>
<line x1="945.5" x2="945.5" y1="399.2" y2="439.2" stroke="#606060" stroke-width="1"/>
<rect x="943.3" y="422.0" width="4.4" height="7.7" fill="#000"/>
<line x1="950.5" x2="950.5" y1="395.5" y2="440.3" stroke="#606060" stroke-width="1"/>
<rect x="948.65" y="410.35" width="3.7" height="19.3" fill="#fff" stroke="#4a4a4a" stroke-width="0.75"/>
<line x1="956.5" x2="956.5" y1="389.2" y2="413.7" stroke="#606060" stroke-width="1"/>
<rect x="954.65" y="399.55" width="3.7" height="10.4" fill="#fff" stroke="#4a4a4a" stroke-width="0.75"/>
<line x1="962.5" x2="962.5" y1="372.5" y2="407.5" stroke="#606060" stroke-width="1"/>
<rect x="960.65" y="378.65000000000003" width="3.7" height="20.5" fill="#fff" stroke="#4a4a4a" stroke-width="0.75"/>
<rect x="1128" y="371" width="58.6" height="27.6" rx="1.5" fill="#000"/>
<text x="1136.1" y="382.4" font-size="11.5px" fill="#f0f0f0" textLength="35.3" lengthAdjust="spacing">26.132</text>
<text x="1136" y="394.9" font-size="11.5px" fill="#b4b4b4" textLength="45.6" lengthAdjust="spacing">09:19:27</text>
<text class="mo" x="130" y="755.2" text-anchor="middle">Mar</text>
<text class="mo" x="311" y="755.2" text-anchor="middle">Apr</text>
<text class="mo" x="487" y="755.2" text-anchor="middle">May</text>
<text class="mo" x="669" y="755.2" text-anchor="middle">Jun</text>
<text class="mo" x="845" y="755.2" text-anchor="middle">Jul</text>
<text class="mo" x="1027" y="755.2" text-anchor="middle">Aug</text>
<defs><clipPath id="avclip"><rect x="9" y="625" width="160" height="137"/></clipPath></defs>
<g clip-path="url(#avclip)" fill="none" stroke="#0a0a0a" stroke-linecap="round" stroke-linejoin="round"><path d="M100.6 678.4C100.9 677.5 102.1 675.3 102.6 673.3C103.1 671.3 103.5 668.8 103.6 666.3C103.7 663.8 103.6 660.9 103.1 658.2C102.6 655.5 101.8 652.7 100.6 650.2C99.3 647.6 97.5 645.3 95.5 643.1C93.5 640.9 91.0 638.6 88.5 637.1C86.0 635.5 83.1 634.4 80.4 633.6C77.7 632.9 75.2 632.5 72.4 632.4C69.5 632.3 66.3 632.6 63.3 633.1C60.3 633.7 57.1 634.4 54.2 635.6C51.4 636.7 48.4 638.2 46.2 640.1C43.9 642.0 42.0 644.8 40.6 647.1C39.3 649.5 38.6 651.8 38.1 654.2C37.6 656.5 37.8 658.9 37.6 661.2C37.5 663.6 37.4 665.9 37.1 668.3C36.9 670.6 36.4 672.6 36.1 675.3C35.8 678.0 35.4 681.4 35.3 684.4C35.2 687.4 35.4 691.2 35.6 693.5C35.8 695.7 35.9 695.7 36.7 698.0C37.4 700.3 38.6 704.6 40.0 707.3C41.4 710.1 43.3 712.6 45.3 714.7C47.3 716.8 49.6 718.7 52.0 720.0C54.4 721.3 57.3 722.1 60.0 722.4C62.7 722.7 65.3 722.5 68.0 722.0C70.7 721.5 73.3 720.7 76.0 719.3C78.7 718.0 81.6 716.0 84.0 714.0C86.4 712.0 88.9 709.3 90.7 707.3C92.4 705.3 93.7 703.6 94.7 702.0C95.6 700.4 96.0 698.7 96.3 698.0" stroke-width="2.51"/><path d="M97.0 664.8C97.5 665.8 99.0 669.4 99.6 671.3C100.1 673.2 100.5 674.2 100.6 676.3C100.6 678.5 100.1 681.7 99.8 684.4C99.4 687.1 98.8 690.1 98.3 692.5C97.9 694.8 97.4 697.6 97.0 698.5C96.7 699.4 96.4 698.1 96.3 698.0" stroke-width="2.11"/><path d="M102.1 675.3C102.7 675.2 104.5 674.4 105.6 674.5C106.7 674.6 108.0 674.9 108.6 675.8C109.3 676.8 109.5 678.4 109.4 680.4C109.3 682.3 108.9 685.2 108.1 687.4C107.3 689.6 105.9 691.9 104.6 693.5C103.3 695.1 101.7 696.3 100.6 697.0C99.4 697.7 98.0 697.4 97.5 697.5" stroke-width="2.24"/><path d="M105.6 678.4C105.2 679.4 103.9 682.4 103.1 684.4C102.2 686.4 101.2 689.1 100.6 690.4C99.9 691.8 99.3 692.1 99.1 692.5" stroke-width="1.45"/><path d="M42.0 670.3C42.5 670.0 43.8 669.1 45.2 668.8C46.6 668.4 48.6 668.2 50.2 668.3C51.8 668.4 54.0 669.1 54.7 669.3" stroke-width="2.51"/><path d="M44.7 673.8C45.3 673.9 47.4 674.6 48.7 674.5C50.0 674.5 52.1 673.7 52.7 673.5" stroke-width="1.19"/><path d="M70.2 669.8C70.9 669.6 72.7 668.7 74.4 668.5C76.1 668.3 78.6 668.4 80.4 668.8C82.3 669.2 84.6 670.5 85.5 670.8" stroke-width="2.51"/><path d="M73.4 673.8C74.2 674.0 76.7 674.8 78.4 674.8C80.1 674.8 82.6 674.0 83.4 673.8" stroke-width="1.19"/><path d="M86.0 672.3C86.5 672.4 88.9 672.7 89.5 672.8" stroke-width="0.92"/><path d="M58.1 668.8C58.0 669.4 57.7 671.4 57.5 672.3C57.2 673.2 56.6 674.0 56.5 674.3" stroke-width="1.45"/><path d="M51.4 678.9C51.2 679.3 50.1 680.6 50.0 681.4C49.9 682.1 50.3 683.0 51.0 683.4C51.7 683.8 53.0 683.6 54.2 683.9C55.4 684.1 56.9 684.8 58.3 684.9C59.6 684.9 60.8 684.5 62.3 684.2C63.8 683.9 65.9 683.4 67.3 683.2C68.8 683.0 70.1 683.6 70.9 683.2C71.7 682.8 72.2 681.8 72.2 680.9C72.2 679.9 71.1 677.9 70.9 677.3" stroke-width="1.72"/><path d="M47.2 682.4C46.5 682.9 44.2 684.2 43.2 685.4C42.1 686.6 41.2 688.1 40.9 689.4C40.6 690.8 41.3 692.8 41.3 693.5" stroke-width="1.45"/><path d="M74.4 680.4C75.2 681.0 77.9 682.9 79.4 684.4C80.9 685.9 82.7 687.6 83.4 689.4C84.2 691.3 83.9 694.5 83.9 695.5" stroke-width="1.45"/><path d="M45.2 692.2C46.0 692.0 48.0 691.1 50.2 690.6C52.4 690.2 55.6 689.7 58.3 689.6C61.0 689.5 63.6 689.6 66.3 689.9C69.0 690.3 72.0 691.1 74.4 691.6C76.7 692.2 79.4 693.0 80.4 693.3" stroke-width="2.64"/><path d="M45.2 692.2C45.8 692.9 47.5 695.0 49.2 696.0C50.9 696.9 53.1 697.6 55.2 698.0C57.4 698.4 59.9 698.6 62.3 698.5C64.6 698.4 67.2 698.0 69.3 697.5C71.5 697.0 73.5 696.2 75.4 695.5C77.2 694.8 79.6 693.6 80.4 693.3" stroke-width="1.58"/><path d="M50.7 702.5C51.5 702.9 53.5 704.3 55.2 704.7C57.0 705.2 59.4 705.4 61.3 705.3C63.1 705.3 64.9 704.9 66.3 704.5C67.7 704.1 69.0 703.3 69.5 703.0" stroke-width="1.45"/><path d="M41.6 712.7C41.7 714.2 42.3 718.7 42.0 722.0C41.7 725.3 40.5 729.1 40.0 732.7C39.5 736.2 38.8 740.2 38.9 743.3C39.0 746.4 39.7 748.3 40.7 751.3C41.6 754.3 43.8 759.1 44.7 761.3C45.6 763.6 45.8 764.1 46.0 764.7" stroke-width="2.11"/><path d="M96.3 698.0C96.1 700.0 95.4 706.1 95.3 710.0C95.3 713.9 95.9 719.4 96.0 721.3" stroke-width="2.11"/><path d="M40.0 722.0C39.1 723.3 36.4 727.1 34.7 730.0C32.9 732.9 31.0 736.9 29.3 739.3C27.7 741.8 25.4 743.8 24.7 744.7" stroke-width="1.85"/><path d="M40.0 728.7C39.1 730.7 36.3 737.1 34.7 740.7C33.0 744.2 31.7 747.4 30.0 750.0C28.3 752.6 26.6 754.8 24.7 756.0C22.8 757.2 19.7 757.1 18.7 757.3" stroke-width="1.98"/><path d="M10.0 737.3C11.7 736.6 16.2 734.1 20.0 732.7C23.8 731.2 30.6 729.3 32.7 728.7" stroke-width="1.98"/><path d="M32.7 752.7C32.6 753.6 32.2 756.6 32.4 758.0C32.6 759.4 33.7 760.8 34.0 761.3" stroke-width="1.58"/><path d="M96.0 722.0C95.3 723.6 93.8 728.0 92.0 731.3C90.2 734.7 87.6 738.4 85.3 742.0C83.1 745.6 81.0 749.4 78.7 752.7C76.3 755.9 72.9 759.3 71.3 761.3C69.8 763.3 69.7 764.1 69.3 764.7" stroke-width="2.11"/><path d="M96.0 721.3C96.6 721.7 98.7 721.9 99.3 723.3C100.0 724.8 100.1 727.3 100.0 730.0C99.9 732.7 99.2 736.2 98.7 739.3C98.1 742.4 97.0 747.1 96.7 748.7" stroke-width="1.72"/><path d="M101.3 731.3C101.9 732.4 104.1 734.9 104.7 738.0C105.2 741.1 105.0 746.2 104.7 750.0C104.4 753.8 103.2 758.9 102.9 760.7" stroke-width="1.85"/><path d="M80.0 762.7C81.2 760.9 85.1 752.8 87.3 752.0C89.6 751.2 91.1 756.7 93.3 758.0C95.6 759.3 99.4 759.7 100.7 760.0" stroke-width="1.85"/><path d="M102.7 732.7C104.4 733.4 109.6 735.3 113.3 737.3C117.1 739.3 121.6 742.1 125.3 744.7C129.1 747.2 132.9 749.9 136.0 752.7C139.1 755.4 142.7 759.9 144.0 761.3" stroke-width="2.38"/><path d="M40.6 664.8C40.8 664.3 40.4 662.5 41.7 661.7C42.9 660.9 45.8 660.1 48.2 660.0C50.6 659.9 54.9 660.5 56.3 661.0C57.6 661.6 57.6 663.2 56.5 663.4C55.3 663.7 51.5 662.6 49.2 662.7C46.9 662.8 43.7 663.8 42.7 664.1Z" fill="#0a0a0a" stroke="#0a0a0a" stroke-width="0.9"/><path d="M67.1 662.7C67.3 662.4 66.8 661.2 68.3 660.7C69.9 660.2 73.7 659.7 76.4 659.7C79.1 659.7 82.4 659.9 84.5 660.7C86.5 661.6 87.9 663.3 89.0 664.8C90.1 666.2 90.9 668.7 91.0 669.5C91.1 670.3 90.4 670.2 89.5 669.5C88.6 668.8 87.0 666.3 85.5 665.3C83.9 664.3 82.6 663.8 80.4 663.4C78.2 663.1 74.5 663.3 72.4 663.4C70.2 663.5 68.2 664.0 67.3 664.1Z" fill="#0a0a0a" stroke="#0a0a0a" stroke-width="0.9"/></g>
<g font-size="38px" fill="#0a0a0a">
<text transform="translate(130.55 682.41) scale(0.882 0.893)" stroke="#0a0a0a" stroke-width="0.5">@</text>
<text transform="translate(163.59 686.35) scale(0.819 0.927)">a</text>
<text transform="translate(185.30 686.50) scale(0.748 1.093)">l</text>
<text transform="translate(194.72 686.50) scale(0.778 0.998)">i</text>
<text transform="translate(203.42 684.55) scale(0.913 0.946)">_</text>
<text transform="translate(223.48 686.35) scale(0.950 0.927)">c</text>
<text transform="translate(242.65 686.50) scale(0.973 1.093)">h</text>
<text transform="translate(265.43 686.35) scale(0.799 0.927)">a</text>
<text transform="translate(285.77 686.50) scale(1.011 0.934)">r</text>
<text transform="translate(299.06 686.31) scale(1.131 0.958)">t</text>
<text transform="translate(312.65 686.35) scale(0.803 0.929)">s</text>
</g>
<g fill="none" stroke="#0a0a0a" stroke-width="1.7" stroke-linejoin="miter"><path d="M170.8 704.1h8.6l26.2 34.1h-8.6z"/><path d="M204.6 704l-34.6 34.6" stroke-width="1.9"/></g>
<rect x="238.4" y="705.4" width="44" height="30.2" rx="7.5" ry="7.5" fill="none" stroke="#0a0a0a" stroke-width="2.3"/>
<path d="M255 713.3v14.6l13-7.3z" fill="none" stroke="#0a0a0a" stroke-width="1.7" stroke-linejoin="round"/>
<g fill="#1a1a1a"><path d="M9 773.4h7.6v8.7h-4.6v-5.1h-3z"/><circle cx="18.6" cy="775.3" r="1.85"/><path d="M21.6 773.4h4.7l-3.1 8.7h-4.8z"/></g>
<text x="30.3" y="782.8" font-size="12.5px" fill="#2a2a2a" stroke="#2a2a2a" stroke-width="0.3" textLength="65" lengthAdjust="spacingAndGlyphs">TradingView</text>
</svg></body></html>
